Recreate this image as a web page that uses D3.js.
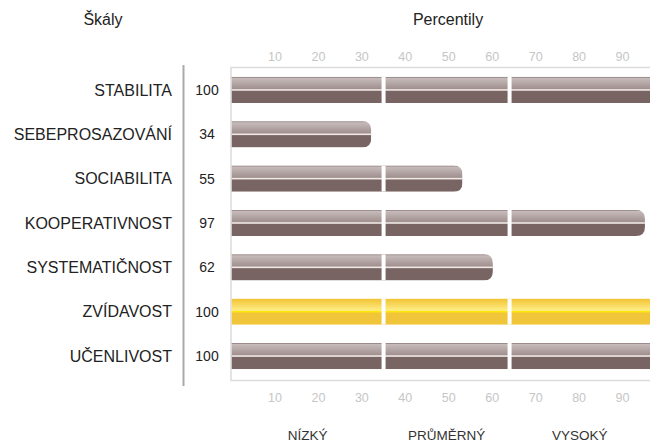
<!DOCTYPE html>
<html><head><meta charset="utf-8">
<script src="https://cdn.jsdelivr.net/npm/d3@7"></script>
<style>html,body{margin:0;padding:0;background:#fff;}svg{display:block;font-family:"Liberation Sans",Arial,sans-serif;}</style>
</head><body>
<script>
const categories = ["STABILITA","SEBEPROSAZOVÁNÍ","SOCIABILITA","KOOPERATIVNOST","SYSTEMATIČNOST","ZVÍDAVOST","UČENLIVOST"];
const values = [100, 34, 55, 97, 62, 100, 100];
const highlight = [false, false, false, false, false, true, false];
const tickValues = [10,20,30,40,50,60,70,80,90];
const bandNames = ["NÍZKÝ","PRŮMĚRNÝ","VYSOKÝ"];
const bandBreaks = [0, 35, 64, 100];

const W = 650, H = 444;
const svg = d3.select("body").append("svg").attr("width", W).attr("height", H);
const defs = svg.append("defs");

const x = d3.scaleLinear().domain([0,100]).range([231.5, 666]);
const y = d3.scaleBand().domain(categories).range([68, 378]).paddingInner(0.41).paddingOuter(0.2);

// gradients
const gGray = defs.append("linearGradient").attr("id","gGray").attr("x1",0).attr("y1",0).attr("x2",0).attr("y2",1);
gGray.append("stop").attr("offset","0%").attr("stop-color","#cbc1c0");
gGray.append("stop").attr("offset","100%").attr("stop-color","#9c8b8a");
const gYel = defs.append("linearGradient").attr("id","gYel").attr("x1",0).attr("y1",0).attr("x2",0).attr("y2",1);
gYel.append("stop").attr("offset","0%").attr("stop-color","#f2c232");
gYel.append("stop").attr("offset","100%").attr("stop-color","#fff28e");

// titles
svg.append("text").attr("x",103).attr("y",25).attr("text-anchor","middle").attr("font-size",16).attr("fill","#222").text("Škály");
svg.append("text").attr("x",448).attr("y",25).attr("text-anchor","middle").attr("font-size",16).attr("fill","#222").text("Percentily");

// frame
svg.append("path").attr("d", `M${W},${67.5}H${x(0)-0.5}V${380.5}H${W}`)
  .attr("fill","none").attr("stroke","#dcdcdc").attr("stroke-width",1.5);
// vertical separator
svg.append("line").attr("x1",183.5).attr("x2",183.5).attr("y1",65).attr("y2",386).attr("stroke","#aaaaaa").attr("stroke-width",2);

// ticks
[60.5, 402].forEach(ty => {
  svg.append("g").selectAll("text").data(tickValues).join("text")
    .attr("x", d => x(d)).attr("y", ty).attr("text-anchor","middle")
    .attr("font-size",12.5).attr("fill","#c6c6c6").text(d => d);
});
// bands
svg.append("g").selectAll("text").data(bandNames).join("text")
  .attr("x",(d,i)=> (x(bandBreaks[i]) + Math.min(x(bandBreaks[i+1]), W))/2)
  .attr("y",440).attr("text-anchor","middle").attr("font-size",13.5).attr("fill","#333").text(d=>d);

// labels
svg.append("g").selectAll("text").data(categories).join("text")
  .attr("x",172).attr("y", d => y(d) + y.bandwidth()/2).attr("dy","0.35em")
  .attr("text-anchor","end").attr("font-size",16).attr("fill","#222").text(d=>d);
svg.append("g").selectAll("text").data(values).join("text")
  .attr("x",207).attr("y",(d,i)=> y(categories[i]) + y.bandwidth()/2).attr("dy","0.35em")
  .attr("text-anchor","middle").attr("font-size",14).attr("fill","#222").text(d=>d);

// bars
const cap = 8, r = 9;
categories.forEach((c,i) => {
  const v = values[i];
  const x0 = x(0), x1 = x(v) - cap;
  const y0 = y(c), h = y.bandwidth();
  const mid = y0 + h/2;
  const id = "clip"+i;
  defs.append("clipPath").attr("id", id).append("path")
    .attr("d", `M${x0},${y0}H${x1-r}Q${x1},${y0} ${x1},${y0+r}V${y0+h-r}Q${x1},${y0+h} ${x1-r},${y0+h}H${x0}Z`);
  const g = svg.append("g").attr("clip-path", `url(#${id})`);
  const hi = highlight[i];
  g.append("rect").attr("x",x0).attr("y",y0).attr("width",x1-x0).attr("height",h/2)
    .attr("fill", hi ? "url(#gYel)" : "url(#gGray)");
  g.append("rect").attr("x",x0).attr("y",mid).attr("width",x1-x0).attr("height",h/2)
    .attr("fill", hi ? "#f1c53a" : "#786563");
  g.append("rect").attr("x",x0).attr("y",mid-0.8).attr("width",x1-x0).attr("height",1.6)
    .attr("fill", hi ? "#ffe60a" : "#efe8e4");
  if (!hi) g.append("rect").attr("x",x0).attr("y",y0).attr("width",x1-x0).attr("height",1)
    .attr("fill","#9a8a89");
  bandBreaks.slice(1,-1).forEach(b => {
    if (x(b) < x1) g.append("rect").attr("x", x(b)-2).attr("y", y0).attr("width",4).attr("height",h).attr("fill","#fff");
  });
});
</script>
</body></html>
